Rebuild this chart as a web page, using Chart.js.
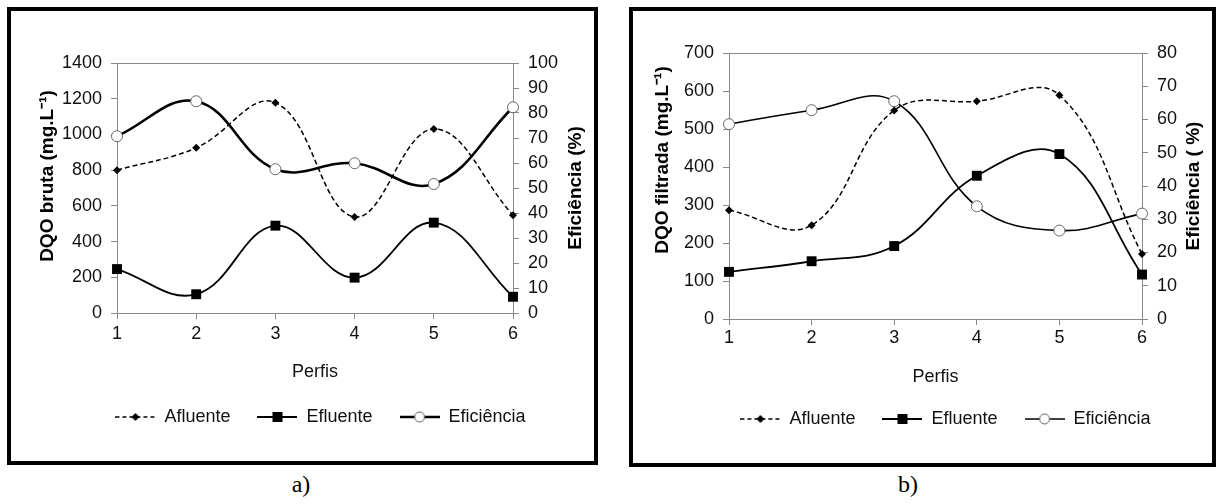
<!DOCTYPE html>
<html>
<head>
<meta charset="utf-8">
<script src="https://cdn.jsdelivr.net/npm/chart.js@4/dist/chart.umd.min.js"></script>
<style>
  body { margin: 0; background: #fff; width: 1216px; height: 504px; position: relative; overflow: hidden; }
  .caixa { position: absolute; box-sizing: border-box; border: 4px solid #000; }
  canvas { position: absolute; top: 0; }
  .legenda { position: absolute; top: 471px; width: 60px; text-align: center; font: 24px "Liberation Serif", "Times New Roman", serif; color: #000; }
</style>
</head>
<body>
<div class="caixa" style="left:7px;top:7px;width:591px;height:458px"></div>
<div class="caixa" style="left:629px;top:7px;width:587px;height:460px"></div>
<canvas id="graficoA" width="600" height="470" style="left:0"></canvas>
<canvas id="graficoB" width="600" height="470" style="left:616px"></canvas>
<div class="legenda" style="left:271px">a)</div>
<div class="legenda" style="left:878px">b)</div>
<script>
// dados
const perfis = ['1', '2', '3', '4', '5', '6'];

const afluenteBruta = [800, 925, 1178, 538, 1030, 548];
const efluenteBruta = [246, 105, 489, 198, 506, 91];
const eficienciaBruta = [70.7, 84.7, 57.5, 59.9, 51.6, 82.3];

const afluenteFiltrada = [286, 247, 549, 573, 589, 171];
const efluenteFiltrada = [124, 152, 192, 377, 434, 117];
const eficienciaFiltrada = [58.6, 62.8, 65.5, 33.9, 26.6, 31.7];

const eixoBruta = { max: 1400, step: 200 };
const eixoFiltrada = { max: 700, step: 100 };
const eixoEfBruta = { max: 100, step: 10 };
const eixoEfFiltrada = { max: 80, step: 10 };

const fonte = '"Liberation Sans", Arial, sans-serif';

// icones da legenda: linha + marcador
function icone(tipo, largLinha) {
  const c = document.createElement('canvas');
  c.width = 40; c.height = 14;
  const g = c.getContext('2d');
  g.strokeStyle = '#000';
  g.lineWidth = largLinha;
  if (tipo === 'afluente') g.setLineDash([4, 3]);
  g.beginPath(); g.moveTo(0, 7); g.lineTo(40, 7); g.stroke();
  g.setLineDash([]);
  if (tipo === 'afluente') {
    g.fillStyle = '#000';
    g.beginPath(); g.moveTo(20, 3); g.lineTo(24, 7); g.lineTo(20, 11); g.lineTo(16, 7); g.closePath(); g.fill();
  } else if (tipo === 'efluente') {
    g.fillStyle = '#000';
    g.fillRect(15, 2, 10, 10);
  } else {
    g.fillStyle = '#fff'; g.strokeStyle = '#666'; g.lineWidth = 1;
    g.beginPath(); g.arc(20, 7, 5, 0, Math.PI * 2); g.fill(); g.stroke();
  }
  return c;
}

const titulosLaterais = {
  id: 'titulosLaterais',
  afterDraw(chart, args, o) {
    const { ctx, chartArea: a } = chart;
    ctx.save();
    // moldura superior da area do grafico
    ctx.strokeStyle = '#888'; ctx.lineWidth = 1;
    ctx.beginPath(); ctx.moveTo(a.left, a.top + 0.5); ctx.lineTo(a.right, a.top + 0.5); ctx.stroke();
    ctx.font = 'bold 19px ' + fonte;
    ctx.fillStyle = '#000';
    ctx.textAlign = 'center';
    ctx.textBaseline = 'middle';
    const meio = (a.top + a.bottom) / 2;
    ctx.translate(a.left - o.gapEsq, meio + o.desvioEsq);
    ctx.rotate(-Math.PI / 2);
    ctx.fillText(o.esquerda, 0, 0);
    ctx.restore();
    ctx.save();
    ctx.font = 'bold 19px ' + fonte;
    ctx.fillStyle = '#000';
    ctx.textAlign = 'center';
    ctx.textBaseline = 'middle';
    ctx.translate(a.right + o.gapDir, meio);
    ctx.rotate(-Math.PI / 2);
    ctx.fillText(o.direita, 0, 0);
    ctx.restore();
  }
};

const semSeparador = v => String(v);

function criarGrafico(id, cfg) {
  const icones = [icone('afluente', 1.5), icone('efluente', 2), icone('eficiencia', cfg.largEf)];
  const eixoY = {
    position: 'left',
    min: 0, max: cfg.eixo.max,
    ticks: { stepSize: cfg.eixo.step, color: '#111', font: { family: fonte, size: 18 }, padding: 9, callback: semSeparador },
    grid: { drawOnChartArea: false, drawTicks: true, tickLength: 6, color: '#888' },
    border: { color: '#888' },
    afterFit: s => { s.width = cfg.largEsq; }
  };
  const eixoY1 = {
    position: 'right',
    min: 0, max: cfg.eixoEf.max,
    ticks: { stepSize: cfg.eixoEf.step, color: '#111', font: { family: fonte, size: 18 }, padding: 9, callback: semSeparador },
    grid: { drawOnChartArea: false, drawTicks: true, tickLength: 6, color: '#888' },
    border: { color: '#888' },
    afterFit: s => { s.width = cfg.largDir; }
  };
  return new Chart(document.getElementById(id), {
    type: 'line',
    data: {
      labels: perfis,
      datasets: [
        {
          label: 'Afluente', data: cfg.afluente, yAxisID: 'y',
          borderColor: '#000', borderWidth: 1.5, borderDash: [5, 3],
          pointStyle: 'rectRot', pointRadius: 4, pointBackgroundColor: '#000', pointBorderColor: '#000', pointBorderWidth: 0
        },
        {
          label: 'Efluente', data: cfg.efluente, yAxisID: 'y',
          borderColor: '#000', borderWidth: 1.8,
          pointStyle: 'rect', pointRadius: 7, pointBackgroundColor: '#000', pointBorderColor: '#000', pointBorderWidth: 0
        },
        {
          label: 'Eficiência', data: cfg.eficiencia, yAxisID: 'y1',
          borderColor: '#000', borderWidth: cfg.largEf,
          pointStyle: 'circle', pointRadius: 5.5, pointBackgroundColor: '#fff', pointBorderColor: '#666', pointBorderWidth: 1
        }
      ]
    },
    options: {
      responsive: false,
      animation: false,
      devicePixelRatio: 1,
      tension: 0.4,
      layout: { padding: { left: cfg.padEsq, right: 0, top: cfg.topo, bottom: cfg.padBaixo } },
      scales: {
        x: {
          type: 'category', offset: false,
          ticks: { color: '#111', font: { family: fonte, size: 18 }, padding: cfg.padTickX },
          grid: { drawOnChartArea: false, drawTicks: true, tickLength: 6, color: '#888' },
          border: { color: '#888' },
          title: { display: true, text: 'Perfis', color: '#111', font: { family: fonte, size: 18, lineHeight: cfg.lhPerfis }, padding: 0 },
          afterFit: s => { s.height = cfg.altX; }
        },
        y: eixoY,
        y1: eixoY1
      },
      plugins: {
        tooltip: { enabled: false },
        legend: {
          position: 'bottom',
          labels: {
            usePointStyle: true, pointStyleWidth: 40, padding: 27,
            color: '#111', font: { family: fonte, size: 18 },
            generateLabels: ch => Chart.defaults.plugins.legend.labels.generateLabels(ch)
              .map((it, i) => Object.assign(it, { pointStyle: icones[i] }))
          }
        },
        titulosLaterais: {
          esquerda: cfg.tituloEsq, direita: cfg.tituloDir,
          gapEsq: cfg.gapEsq, gapDir: cfg.gapDir, desvioEsq: cfg.desvioEsq
        }
      }
    },
    plugins: [titulosLaterais]
  });
}

criarGrafico('graficoA', {
  afluente: afluenteBruta, efluente: efluenteBruta, eficiencia: eficienciaBruta,
  eixo: eixoBruta, eixoEf: eixoEfBruta, largEf: 2.6,
  padEsq: 41, largEsq: 76, largDir: 87, topo: 63, padBaixo: 34, altX: 68, lhPerfis: 1, padTickX: 4,
  tituloEsq: 'DQO bruta (mg.L⁻¹)', tituloDir: 'Eficiência (%)',
  gapEsq: 69, gapDir: 63, desvioEsq: -12
});

criarGrafico('graficoB', {
  afluente: afluenteFiltrada, efluente: efluenteFiltrada, eficiencia: eficienciaFiltrada,
  eixo: eixoFiltrada, eixoEf: eixoEfFiltrada, largEf: 1.6,
  padEsq: 59, largEsq: 54, largDir: 74, topo: 53, padBaixo: 32, altX: 64, lhPerfis: 0.7, padTickX: 2,
  tituloEsq: 'DQO filtrada (mg.L⁻¹)', tituloDir: 'Eficiência ( %)',
  gapEsq: 66, gapDir: 52, desvioEsq: -26
});
</script>
</body>
</html>
